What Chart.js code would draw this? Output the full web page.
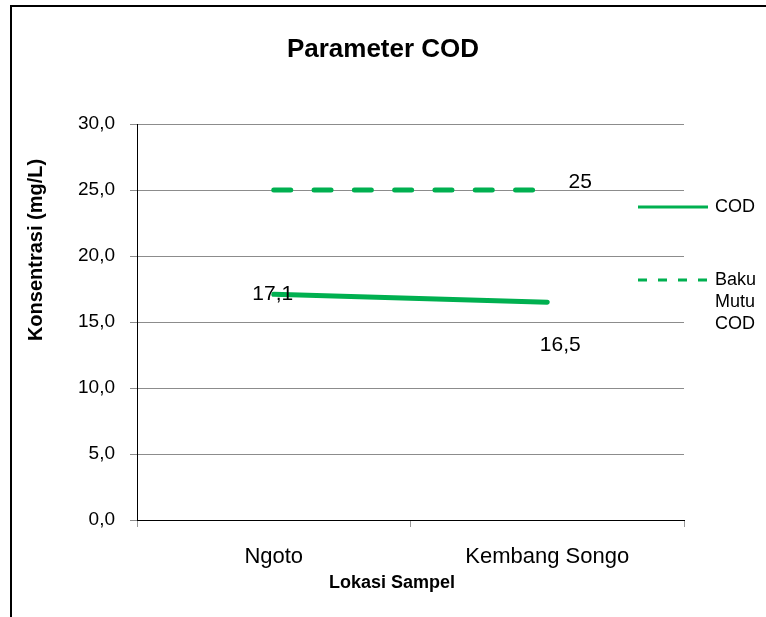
<!DOCTYPE html>
<html>
<head>
<meta charset="utf-8">
<title>Parameter COD</title>
<script src="https://cdn.jsdelivr.net/npm/chart.js@4.4.1/dist/chart.umd.min.js"></script>
<style>
  html, body { margin: 0; padding: 0; background: #fff; }
  #wrap { width: 766px; height: 617px; }
</style>
</head>
<body>
<div id="wrap"><canvas id="chart-cod" width="766" height="617"></canvas></div>
<script>
// COD concentration per sampling location vs. the quality standard
const lokasi = ['Ngoto', 'Kembang Songo'];
const codValues = [17.1, 16.5];
const bakuMutu = [25, 25];
const yTicks = [0, 5, 10, 15, 20, 25, 30];

const GREEN = '#00b050';
const FONT = "Arial, 'Liberation Sans', sans-serif";

// label text for each point (comma decimal, like the source sheet)
const codLabels = ['17,1', '16,5'];
const bakuLabels = [null, '25'];

// frame, title, axis titles, point labels and legend
const decorPlugin = {
  id: 'decor',
  afterDraw(chart) {
    const ctx = chart.ctx;
    ctx.save();

    // outer frame (only top and left edges fall inside the canvas)
    ctx.strokeStyle = '#000';
    ctx.lineWidth = 2;
    ctx.beginPath();
    ctx.moveTo(11, 640);
    ctx.lineTo(11, 6);
    ctx.lineTo(790, 6);
    ctx.stroke();

    ctx.fillStyle = '#000';
    ctx.textAlign = 'center';
    ctx.textBaseline = 'middle';

    ctx.font = 'bold 26px ' + FONT;
    ctx.fillText('Parameter COD', 383, 50);

    ctx.font = 'bold 18px ' + FONT;
    ctx.fillText('Lokasi Sampel', 392, 583);

    ctx.save();
    ctx.translate(36, 250);
    ctx.rotate(-Math.PI / 2);
    ctx.font = 'bold 20px ' + FONT;
    ctx.fillText('Konsentrasi (mg/L)', 0, 0);
    ctx.restore();

    // value labels next to the points
    ctx.font = '21px ' + FONT;
    const codPts = chart.getDatasetMeta(0).data;
    ctx.fillText(codLabels[0], codPts[0].x - 1, codPts[0].y);
    ctx.fillText(codLabels[1], codPts[1].x + 13, codPts[1].y + 43);
    const bakuPts = chart.getDatasetMeta(1).data;
    ctx.fillText(bakuLabels[1], bakuPts[1].x + 33, bakuPts[1].y - 8);

    // legend
    const rows = [207, 280];
    ctx.textAlign = 'left';
    ctx.font = '18px ' + FONT;
    chart.data.datasets.forEach((ds, i) => {
      const y = rows[i];
      ctx.strokeStyle = ds.borderColor;
      ctx.lineWidth = 3;
      ctx.setLineDash(ds.borderDash ? [9, 11] : []);
      ctx.beginPath();
      ctx.moveTo(638, y);
      ctx.lineTo(708, y);
      ctx.stroke();
      ctx.setLineDash([]);
      const lines = ds.label.length > 4 ? ds.label.split(' ') : [ds.label];
      lines.forEach((w, j) => ctx.fillText(w, 715, y + j * 22));
    });

    ctx.restore();
  }
};

new Chart(document.getElementById('chart-cod'), {
  type: 'line',
  data: {
    labels: lokasi,
    datasets: [
      {
        label: 'COD',
        data: codValues,
        borderColor: GREEN,
        borderWidth: 5,
        borderCapStyle: 'round',
        pointRadius: 0,
        tension: 0
      },
      {
        label: 'Baku Mutu COD',
        data: bakuMutu,
        borderColor: GREEN,
        borderWidth: 5,
        borderCapStyle: 'round',
        borderDash: [17, 23.3],
        pointRadius: 0,
        tension: 0
      }
    ]
  },
  options: {
    responsive: false,
    animation: false,
    layout: { padding: { top: 124, right: 82, left: 0, bottom: 0 } },
    plugins: {
      legend: { display: false },
      title: { display: false },
      tooltip: { enabled: false }
    },
    scales: {
      x: {
        offset: true,
        grid: {
          offset: true,
          drawOnChartArea: false,
          drawTicks: true,
          tickLength: 7,
          color: '#999'
        },
        border: { color: '#000', width: 1 },
        ticks: {
          color: '#000',
          font: { family: FONT, size: 22 },
          padding: 17,
          maxRotation: 0
        },
        afterFit(scale) { scale.height = 97; }
      },
      y: {
        min: 0,
        max: 30,
        afterBuildTicks(scale) { scale.ticks = yTicks.map(v => ({ value: v })); },
        grid: { color: '#8c8c8c', tickLength: 7 },
        border: { color: '#000', width: 1 },
        ticks: {
          color: '#000',
          font: { family: FONT, size: 19 },
          padding: 15,
          callback: v => v.toFixed(1).replace('.', ',')
        },
        afterFit(scale) { scale.width = 137; }
      }
    }
  },
  plugins: [decorPlugin]
});
</script>
</body>
</html>
